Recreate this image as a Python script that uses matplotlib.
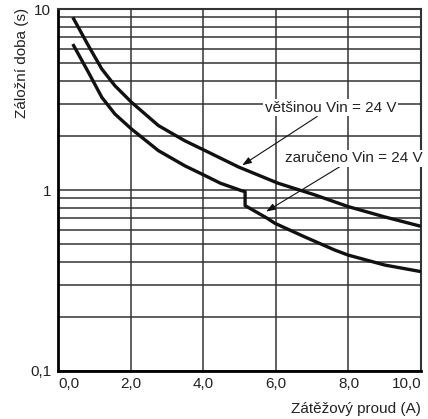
import numpy as np
import matplotlib
matplotlib.use("Agg")
import matplotlib.pyplot as plt
from matplotlib.ticker import FixedLocator, NullFormatter

plt.rcParams['font.family'] = ['Liberation Sans', 'DejaVu Sans']

# curve values
upper_x = [0.4, 0.83, 1.2, 1.56, 2.02, 2.76, 3.49, 4.05, 4.97, 6.06, 7.07, 7.99, 9.0, 10.0]
upper_y = [9.0, 6.27, 4.66, 3.77, 3.05, 2.27, 1.87, 1.65, 1.34, 1.09, 0.94, 0.81, 0.71, 0.63]

lower_x = [0.4, 0.83, 1.2, 1.56, 2.02, 2.76, 3.49, 4.05, 4.47, 5.06, 5.15, 5.15, 5.75, 5.97, 6.8, 7.62, 7.99, 9.0, 10.0]
lower_y = [6.4, 4.47, 3.25, 2.63, 2.17, 1.65, 1.36, 1.2, 1.09, 0.99, 0.98, 0.82, 0.70, 0.655, 0.55, 0.466, 0.437, 0.385, 0.354]

x_ticks = [0, 2, 4, 6, 8, 10]
x_labels = ['0,0', '2,0', '4,0', '6,0', '8,0', '10,0']
y_ticks = [0.1, 1, 10]
y_labels = ['0,1', '1', '10']

fig = plt.figure(figsize=(4.28, 4.19), dpi=100)
ax = fig.add_axes([58.3 / 428, 1 - 371 / 419, (421 - 58.3) / 428, (371 - 9) / 419])

ax.set_yscale('log')
ax.set_xlim(0, 10)
ax.set_ylim(0.1, 10)

ax.plot(upper_x, upper_y, color='#111111', lw=2.4, zorder=3, solid_capstyle='butt')
ax.plot(lower_x, lower_y, color='#111111', lw=2.4, zorder=3, solid_capstyle='butt')

# ticks
ax.xaxis.set_major_locator(FixedLocator(x_ticks))
ax.set_xticklabels(x_labels)
ax.yaxis.set_major_locator(FixedLocator(y_ticks))
ax.set_yticklabels(y_labels)
minors = [m * d for d in (0.1, 1) for m in range(2, 10)]
ax.yaxis.set_minor_locator(FixedLocator(minors))
ax.yaxis.set_minor_formatter(NullFormatter())
ax.tick_params(which='both', length=0, labelsize=11, colors='#222222')
ax.tick_params(axis='x', pad=4)
ax.tick_params(axis='y', pad=5)
labels = ax.get_xticklabels()
labels[0].set_ha('left')
labels[-1].set_ha('right')

# grid
ax.set_axisbelow(True)
ax.yaxis.grid(True, which='both', color='#333333', lw=1.1)
ax.xaxis.grid(True, which='major', color='#444444', lw=1.2)

for side in ['left', 'bottom']:
    ax.spines[side].set_linewidth(2.0)
for side in ['top', 'right']:
    ax.spines[side].set_linewidth(1.5)
    ax.spines[side].set_color('#333333')

# annotations
arrow = dict(arrowstyle='-|>,head_length=0.5,head_width=0.18', lw=0.8, color='#111111',
             shrinkA=0, shrinkB=0)
ax.annotate('většinou Vin = 24 V', xy=(5.07, 1.37), xytext=(7.5, 2.84),
            ha='center', va='center', fontsize=11, color='#222222', zorder=5,
            bbox=dict(boxstyle='square,pad=0.1', fc='white', ec='none'),
            arrowprops=arrow)
ax.annotate('zaručeno Vin = 24 V', xy=(5.73, 0.76), xytext=(8.15, 1.50),
            ha='center', va='center', fontsize=11, color='#222222', zorder=5,
            bbox=dict(boxstyle='square,pad=0.1', fc='white', ec='none'),
            arrowprops=arrow, annotation_clip=False)

fig.text(421 / 428, 1 - 409 / 419, 'Zátěžový proud (A)', ha='right', va='center',
         fontsize=11, color='#222222')
fig.text(22 / 428, 1 - 8 / 419, 'Záložní doba (s)', rotation=90, ha='center', va='top',
         fontsize=11, color='#222222')

fig.savefig('out.png', dpi=100)
